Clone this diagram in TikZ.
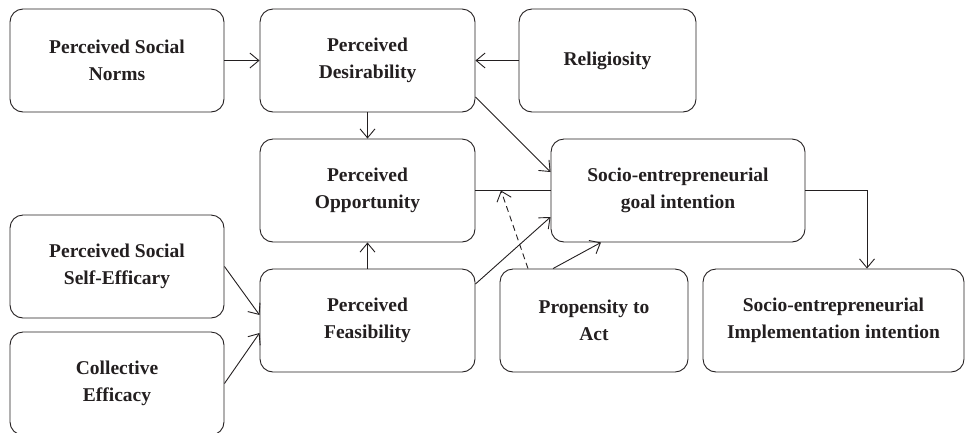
\documentclass[tikz,border=0pt]{standalone}
\usepackage{fontspec}
\setmainfont{Liberation Serif}
\usetikzlibrary{arrows.meta,calc}
\definecolor{ink}{HTML}{231F20}
\tikzset{
  box/.style={draw=ink, line width=0.9pt, rounded corners=13pt, align=center,
    font=\fontsize{19.5}{27}\selectfont\bfseries, text=ink, inner sep=0pt,
    minimum height=103pt},
  conn/.style={draw=ink, line width=0.9pt, -{Straight Barb[length=9pt,width=15pt,line width=0.9pt]}},
  plain/.style={draw=ink, line width=0.9pt},
  dashline/.style={dash pattern=on 6pt off 4pt},
}
\begin{document}
\begin{tikzpicture}[x=1pt,y=-1pt]
\useasboundingbox (0,0) rectangle (965,432);
\node[box, minimum width=214pt] (norms) at (117,60.5) {Perceived Social\\Norms};
\node[box, minimum width=215pt] (desir) at (367.5,60.5) {Perceived\\Desirability};
\node[box, minimum width=177pt] (relig) at (607.5,60.5) {Religiosity};
\node[box, minimum width=215pt] (opp) at (367.5,190.5) {Perceived\\Opportunity};
\node[box, minimum width=254pt] (goal) at (678,190.5) {Socio-entrepreneurial\\goal intention};
\node[box, minimum width=214pt] (self) at (117,266.5) {Perceived Social\\Self-Efficary};
\node[box, minimum width=214pt] (coll) at (117,383.5) {Collective\\Efficacy};
\node[box, minimum width=215pt] (feas) at (367.5,320.5) {Perceived\\Feasibility};
\node[box, minimum width=188pt] (prop) at (594,320.5) {Propensity to\\Act};
\node[box, minimum width=261pt] (impl) at (833.5,320.5) {Socio-entrepreneurial\\Implementation intention};

\draw[conn] (norms) -- (desir);
\draw[conn] (relig) -- (desir);
\draw[conn] (desir) -- (opp);
\draw[conn] (feas) -- (opp);
\draw[conn] ([yshift=-36.5pt]desir.east) -- ([yshift=18.5pt]goal.west);
\draw[plain] (opp) -- (goal);
\coordinate (m) at ($(opp.east)!0.34!(goal.west)$);
\draw[conn, dashline] ([xshift=-66pt]prop.north) -- (m);
\draw[conn] ([yshift=36.5pt]feas.east) -- ([yshift=-26.5pt]goal.west);
\draw[conn] ([xshift=-41pt]prop.north) -- ([xshift=-77pt]goal.south);
\draw[conn] (self.east) -- ([yshift=5.5pt]feas.west);
\draw[conn] (coll.east) -- ([yshift=-12.5pt]feas.west);
\draw[conn] (goal.east) -| ([xshift=33.5pt]impl.north);
\end{tikzpicture}
\end{document}
